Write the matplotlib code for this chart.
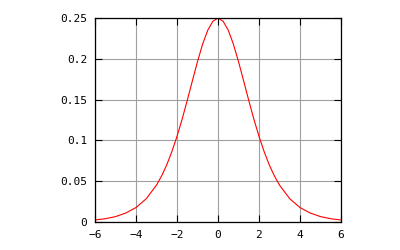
import matplotlib
matplotlib.use("Agg")
import matplotlib.pyplot as plt

# values
x_vals = [-6, -5.5, -5, -4.5, -4, -3.5, -3, -2.75, -2.5, -2.25, -2, -1.75, -1.5,
          -1.25, -1, -0.75, -0.5, -0.25, 0, 0.25, 0.5, 0.75, 1, 1.25, 1.5, 1.75,
          2, 2.25, 2.5, 2.75, 3, 3.5, 4, 4.5, 5, 5.5, 6]
y_vals = [0.0025, 0.004, 0.0066, 0.011, 0.0177, 0.0285, 0.0452, 0.0565, 0.070,
          0.0863, 0.105, 0.126, 0.149, 0.173, 0.1966, 0.218, 0.235, 0.246, 0.25,
          0.246, 0.235, 0.218, 0.1966, 0.173, 0.149, 0.126, 0.105, 0.0863, 0.070,
          0.0565, 0.0452, 0.0285, 0.0177, 0.011, 0.0066, 0.004, 0.0025]
x_ticks = [-6, -4, -2, 0, 2, 4, 6]
y_ticks = [0, 0.05, 0.1, 0.15, 0.2, 0.25]
y_labels = ["0", "0.05", "0.1", "0.15", "0.2", "0.25"]

plt.rcParams['font.family'] = 'DejaVu Sans Mono'
fig = plt.figure(figsize=(4, 2.5), dpi=100)
ax = fig.add_axes([0.2375, 0.112, 0.615, 0.816])

ax.plot(x_vals, y_vals, color='red', linewidth=0.8)
ax.set_xlim(-6, 6)
ax.set_ylim(0, 0.25)
ax.set_xticks(x_ticks)
ax.set_yticks(y_ticks)
ax.set_yticklabels(y_labels)
ax.grid(True, color='#a0a0a0', linewidth=0.8)
ax.tick_params(direction='in', length=5, width=0.8, labelsize=8,
               top=True, right=True, pad=5.5)
for s in ax.spines.values():
    s.set_linewidth(0.9)

fig.savefig("out.png", dpi=100)
